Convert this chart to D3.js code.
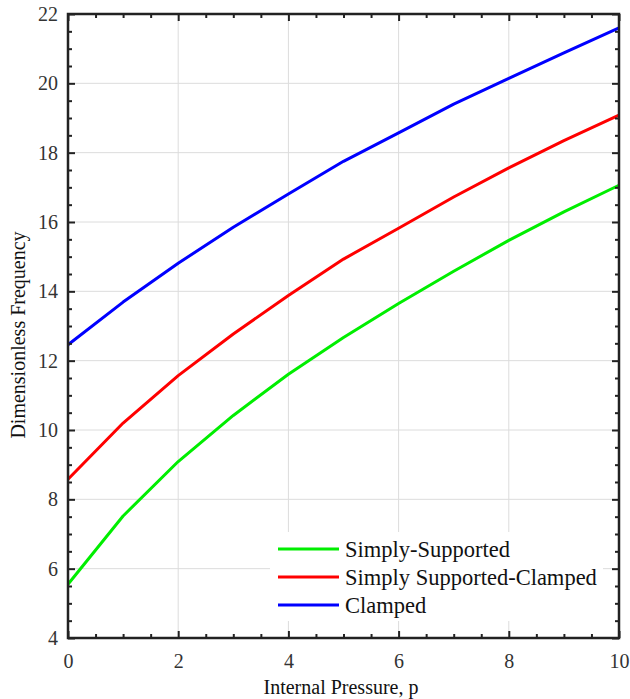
<!DOCTYPE html>
<html><head><meta charset="utf-8">
<script src="https://cdn.jsdelivr.net/npm/d3@7"></script>
<style>body{margin:0;background:#fff}svg{display:block}
svg text{font-family:"Liberation Serif","Times New Roman",serif !important;}</style>
</head><body>
<script>
const pressure = [0,1,2,3,4,5,6,7,8,9,10];
const simplySupported = [5.55,7.52,9.09,10.42,11.61,12.67,13.65,14.58,15.47,16.29,17.06];
const simplySupportedClamped = [8.58,10.2,11.57,12.77,13.88,14.93,15.82,16.72,17.56,18.35,19.08];
const clamped = [12.46,13.69,14.81,15.85,16.81,17.75,18.57,19.4,20.14,20.88,21.6];
const seriesNames = ["Simply-Supported","Simply Supported-Clamped","Clamped"];
const seriesColors = ["#00ee00","#ff0000","#0000ff"];
const xTicks = [0,2,4,6,8,10];
const yTicks = [4,6,8,10,12,14,16,18,20,22];

const W=630,H=699;
const m={l:68,r:11,t:14,b:61};
const svg=d3.select("body").append("svg").attr("width",W).attr("height",H);
const x=d3.scaleLinear().domain([0,10]).range([m.l,W-m.r]);
const y=d3.scaleLinear().domain([4,22]).range([H-m.b,m.t]);

// grid
const g=svg.append("g");
g.selectAll(".gx").data(xTicks.slice(1,-1)).join("line")
 .attr("x1",d=>x(d)).attr("x2",d=>x(d)).attr("y1",y(4)).attr("y2",y(22))
 .attr("stroke","#dcdcdc").attr("stroke-width",1);
g.selectAll(".gy").data(yTicks.slice(1,-1)).join("line")
 .attr("y1",d=>y(d)).attr("y2",d=>y(d)).attr("x1",x(0)).attr("x2",x(10))
 .attr("stroke","#dcdcdc").attr("stroke-width",1);

// lines
const allSeries=[simplySupported,simplySupportedClamped,clamped];
const line=d3.line().x((d,i)=>x(pressure[i])).y(d=>y(d));
allSeries.forEach((s,k)=>{
  svg.append("path").datum(s).attr("d",line).attr("fill","none")
   .attr("stroke",seriesColors[k]).attr("stroke-width",3).attr("stroke-linejoin","round");
});

// axes with inside ticks
const minorX=d3.range(0,10.01,0.5).filter(v=>!xTicks.includes(v));
const minorY=d3.range(4,22.01,0.5).filter(v=>!yTicks.includes(v));
const axCol="#222";
function ax(axisFn,scale,ticks,len,tr,labels){
  const a=svg.append("g").attr("transform",tr)
   .call(axisFn(scale).tickValues(ticks).tickSize(len).tickSizeOuter(0).tickFormat(labels?d3.format("d"):""));
  a.attr("font-family",null);
  a.select(".domain").remove();
  a.selectAll(".tick line").attr("stroke",axCol).attr("stroke-width",2);
  a.selectAll("text").attr("font-size",20).attr("fill","#333");
  return a;
}
const b=H-m.b, t=m.t, l=m.l, r=W-m.r;
// bottom
ax(d3.axisBottom,x,xTicks,-7,`translate(0,${b})`,true).selectAll("text").attr("dy",null).attr("y",30);
ax(d3.axisBottom,x,minorX,-4,`translate(0,${b})`,false);
// top
ax(d3.axisTop,x,xTicks,-7,`translate(0,${t})`,false);
ax(d3.axisTop,x,minorX,-4,`translate(0,${t})`,false);
// left
ax(d3.axisLeft,y,yTicks,-7,`translate(${l},0)`,true).selectAll("text").attr("x",-10);
ax(d3.axisLeft,y,minorY,-4,`translate(${l},0)`,false);
// right
ax(d3.axisRight,y,yTicks,-7,`translate(${r},0)`,false);
ax(d3.axisRight,y,minorY,-4,`translate(${r},0)`,false);

// frame
svg.append("rect").attr("x",l).attr("y",t).attr("width",r-l).attr("height",b-t)
 .attr("fill","none").attr("stroke",axCol).attr("stroke-width",2.5);

// axis titles
svg.append("text").attr("x",341).attr("y",694).attr("text-anchor","middle")
 .attr("font-size",20).attr("fill","#111").text("Internal Pressure, p");
svg.append("text").attr("transform",`translate(25,${(t+b)/2+9}) rotate(-90)`).attr("text-anchor","middle")
 .attr("font-size",20).attr("fill","#111").text("Dimensionless Frequency");

// legend
const lg=svg.append("g");
lg.append("rect").attr("x",270).attr("y",532).attr("width",333).attr("height",89).attr("fill","#fff");
seriesNames.forEach((n,k)=>{
  const yy=549+k*28;
  lg.append("line").attr("x1",278).attr("x2",339).attr("y1",yy).attr("y2",yy)
   .attr("stroke",seriesColors[k]).attr("stroke-width",3);
  lg.append("text").attr("x",345).attr("y",yy).attr("dy","0.35em")
   .attr("font-size",22.5).attr("fill","#111").text(n);
});
</script>
</body></html>
